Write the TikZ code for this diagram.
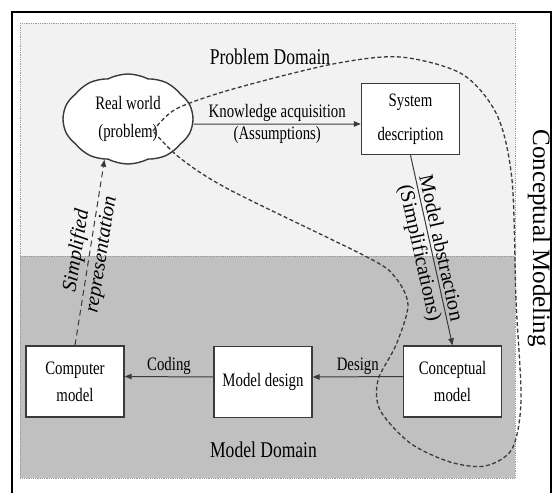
\documentclass[tikz,border=0pt]{standalone}
\usepackage{fontspec}
\setmainfont{Liberation Serif}[FakeStretch=0.78]
\newfontfamily\rotfont{Liberation Serif}
\usepackage{tikz}
\usetikzlibrary{shapes}
\usetikzlibrary {arrows.meta}

\definecolor{lightdomain}{HTML}{F2F2F2}
\definecolor{darkdomain}{HTML}{C0C0C0}
\definecolor{edgegray}{HTML}{3A3A3A}
\definecolor{dotgray}{HTML}{9A9A9A}

\tikzset{
  modelbox/.style={rectangle,draw=edgegray,line width=1.4pt,fill=white,minimum width=98pt,minimum height=71pt,align=center,font=\fontsize{19}{27}\selectfont},
  flow/.style={->,line width=1pt,draw=edgegray},
  loopline/.style={draw=edgegray,line width=1.3pt,dash pattern=on 4pt off 2.5pt},
  lbl/.style={font=\fontsize{19}{23}\selectfont,inner sep=2pt},
  domainlbl/.style={font=\fontsize{22.5}{26}\selectfont},
  rotlbl/.style={font=\rotfont\fontsize{20.5}{24}\selectfont,inner sep=3pt}
}

\begin{document}
\begin{tikzpicture}[x=1pt,y=-1pt,>={Triangle[length=7pt,width=5.5pt]}]
\path[use as bounding box,clip] (0,0) rectangle (553,492);
\fill[lightdomain] (20,23) rectangle (515,256);
\fill[darkdomain] (20,256) rectangle (515,478);
\draw[dotgray,densely dotted,line width=0.8pt] (20,23) rectangle (515,478) (20,256) -- (515,256);
\draw[line width=2.2pt] (12,12) rectangle (551,510);

\node[domainlbl] (probdom) at (270,57) {Problem Domain};
\node[domainlbl] (moddom) at (263.5,450) {Model Domain};
\node[font=\rotfont\fontsize{25}{28}\selectfont,rotate=-90] (cmlabel) at (539,238) {Conceptual Modeling};

\node[cloud,cloud puffs=10,cloud puff arc=55,aspect=1.45,draw=edgegray,line width=1.4pt,fill=white,minimum width=130pt,minimum height=90pt,inner sep=0pt,align=center,font=\fontsize{19}{28}\selectfont] (world) at (128,119) {Real world\\(problem)};
\node[modelbox,font=\fontsize{19}{34}\selectfont] (sysdesc) at (410.5,119) {System\\description};
\node[modelbox] (concept) at (452.5,381.5) {Conceptual\\model};
\node[modelbox] (mdesign) at (263,382) {Model design};
\node[modelbox] (compmodel) at (75,381.5) {Computer\\model};

\draw[flow] ([yshift=-5pt]world.east) -- ([yshift=-5pt]sysdesc.west) node[midway,above,lbl] {Knowledge acquisition} node[midway,below,lbl] {(Assumptions)};
\draw[flow] (sysdesc.south) -- (concept.north) node[midway,sloped,above,rotlbl] {Model abstraction} node[midway,sloped,below,rotlbl] {(Simplifications)};
\draw[flow] ([yshift=5pt]concept.west) -- ([yshift=5pt]mdesign.east) node[midway,above,lbl] {Design};
\draw[flow] ([yshift=5pt]mdesign.west) -- ([yshift=5pt]compmodel.east) node[midway,above,lbl] {Coding};
\draw[flow,dash pattern=on 6pt off 4pt] (compmodel.north) -- (world.240) node[midway,sloped,above,rotlbl,font=\rotfont\itshape\fontsize{20.5}{24}\selectfont] {Simplified} node[midway,sloped,below,rotlbl,font=\rotfont\itshape\fontsize{20.5}{24}\selectfont] {representation};

\draw[loopline] plot[smooth] coordinates {(153,131) (176,109) (233,89) (333,64) (400,57) (462,74) (497,115) (512,180) (516,300) (521,400) (512,449) (485,466) (450,462) (410,443) (380,410) (378,380) (396,345) (408,305) (395,277) (367,257) (230,190) (180,158) (153,131)};

\end{tikzpicture}
\end{document}
